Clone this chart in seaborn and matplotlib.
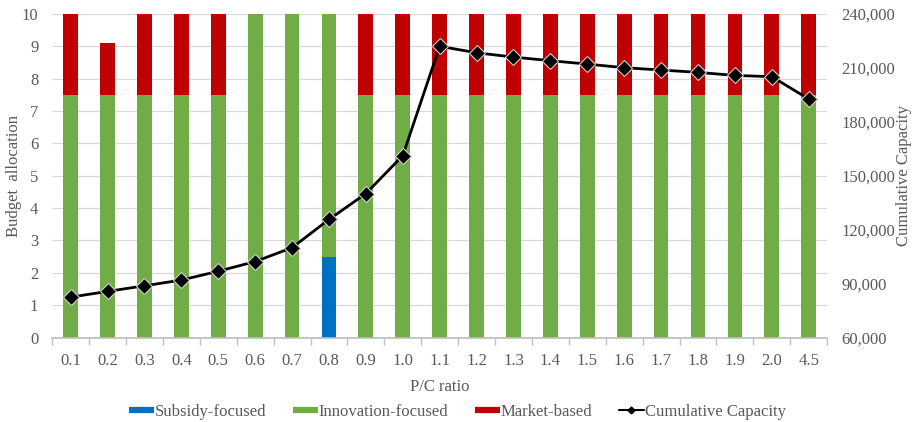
import numpy as np
import pandas as pd
import matplotlib
matplotlib.use("Agg")
import matplotlib.pyplot as plt
import seaborn as sns
from matplotlib.ticker import FuncFormatter
from matplotlib.lines import Line2D

ratios = ["0.1", "0.2", "0.3", "0.4", "0.5", "0.6", "0.7", "0.8", "0.9", "1.0",
          "1.1", "1.2", "1.3", "1.4", "1.5", "1.6", "1.7", "1.8", "1.9", "2.0", "4.5"]
subsidy = [0, 0, 0, 0, 0, 0, 0, 2.5, 0, 0, 0, 0, 0, 0, 0, 0, 0, 0, 0, 0, 0]
innovation = [7.5, 7.5, 7.5, 7.5, 7.5, 10, 10, 7.5, 7.5, 7.5, 7.5,
              7.5, 7.5, 7.5, 7.5, 7.5, 7.5, 7.5, 7.5, 7.5, 7.5]
market = [2.5, 1.6, 2.5, 2.5, 2.5, 0, 0, 0, 2.5, 2.5, 2.5,
          2.5, 2.5, 2.5, 2.5, 2.5, 2.5, 2.5, 2.5, 2.5, 2.5]
capacity = [82500, 85700, 88800, 92000, 96900, 102300, 110000, 125700, 140100, 161200,
            222000, 218400, 216000, 214000, 212100, 210100, 208800, 207500, 205800, 205100, 192700]

df = pd.DataFrame({"ratio": ratios, "sub": subsidy, "inn": innovation,
                   "mkt": market, "cap": capacity})
df["top"] = df["sub"] + df["inn"] + df["mkt"]
df["mid"] = df["sub"] + df["inn"]

sns.set_theme(style="white")
plt.rcParams["font.family"] = "serif"
plt.rcParams["font.serif"] = ["Liberation Serif", "DejaVu Serif"]
grey = "#595959"
fs = 12

c_sub, c_inn, c_mkt = "#0070C0", "#70AD47", "#C00000"

fig, ax = plt.subplots(figsize=(9.16, 4.22), dpi=100)
fig.subplots_adjust(left=0.057, right=0.903, top=0.967, bottom=0.2)

# stacked bars drawn as cumulative layers
for col, c in [("top", c_mkt), ("mid", c_inn), ("sub", c_sub)]:
    sns.barplot(data=df, x="ratio", y=col, color=c, width=0.4, saturation=1,
                linewidth=0, ax=ax, zorder=2)

ax.set_ylim(0, 10)
ax.set_yticks(range(0, 11))
ax.set_xlim(-0.5, len(ratios) - 0.5)
ax.yaxis.grid(True, color="#D9D9D9", linewidth=0.9, zorder=0)
ax.set_axisbelow(True)
for s in ["top", "right", "left"]:
    ax.spines[s].set_visible(False)
ax.spines["bottom"].set_color("#BFBFBF")
ax.set_xlabel("P/C ratio", color=grey, fontsize=fs, labelpad=7)
ax.set_ylabel("Budget  allocation", color=grey, fontsize=fs)
ax.yaxis.set_label_coords(-0.039, 0.5)
ax.tick_params(axis="x", length=0, colors=grey, labelsize=fs, pad=11)
ax.tick_params(axis="y", length=0, colors=grey, labelsize=fs, pad=10)
ax.set_xticks(np.arange(-0.5, len(ratios)), minor=True)
ax.tick_params(axis="x", which="minor", length=5, color="#BFBFBF", bottom=True)

ax2 = ax.twinx()
sns.lineplot(x=np.arange(len(ratios)), y=df["cap"], ax=ax2, color="black", linewidth=2,
             marker="D", markersize=8, markeredgecolor="#D0D0D0", markeredgewidth=0.8)
ax2.set_ylim(60000, 240000)
ax2.set_yticks(range(60000, 240001, 30000))
ax2.yaxis.set_major_formatter(FuncFormatter(lambda v, p: f"{int(v):,}"))
ax2.set_ylabel("Cumulative Capacity", color=grey, fontsize=fs)
ax2.yaxis.set_label_coords(1.089, 0.5)
ax2.tick_params(axis="y", length=0, colors=grey, labelsize=fs, pad=10)
for s in ax2.spines.values():
    s.set_visible(False)
ax2.grid(False)

handles = [Line2D([], [], color=c_sub, linewidth=4.5, solid_capstyle="butt", label="Subsidy-focused"),
           Line2D([], [], color=c_inn, linewidth=4.5, solid_capstyle="butt", label="Innovation-focused"),
           Line2D([], [], color=c_mkt, linewidth=4.5, solid_capstyle="butt", label="Market-based"),
           Line2D([], [], color="black", marker="D", markersize=3.5, linewidth=1.5,
                  label="Cumulative Capacity")]
leg = fig.legend(handles=handles, loc="center", bbox_to_anchor=(0.499, 0.024), ncol=4,
                 frameon=False, fontsize=fs, handlelength=1.5, handletextpad=0.05,
                 columnspacing=1.6)
for t in leg.get_texts():
    t.set_color(grey)

fig.savefig("out.png", dpi=100)
